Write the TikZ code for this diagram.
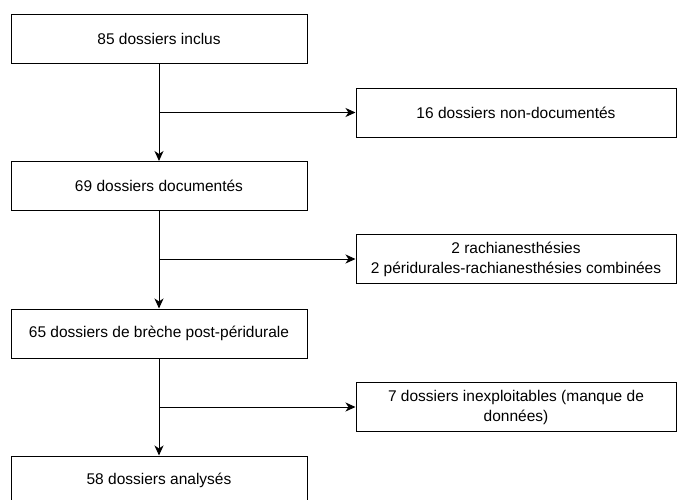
\documentclass[tikz,border=0pt]{standalone}
\usepackage{fontspec}
\setmainfont{Liberation Sans}
\usetikzlibrary{arrows.meta,positioning}

\begin{document}
\begin{tikzpicture}[x=1pt, y=-1pt,
  box/.style={draw, rectangle, line width=1pt, minimum width=296pt, minimum height=49pt, align=center, font=\fontsize{15.5}{20}\selectfont},
  exclbox/.style={box, minimum width=320pt},
  >={Stealth[length=10pt,width=9pt,inset=3pt]}]
\useasboundingbox (0,0) rectangle (678,499);

% étapes principales
\node[box] (inclus) at (159,38.5) {85 dossiers inclus};
\node[box] (documentes) at (159,186) {69 dossiers documentés};
\node[box] (breche) at (159,333.5) {65 dossiers de brèche post-péridurale};
\node[box] (analyses) at (159,480.5) {58 dossiers analysés};

% dossiers exclus
\node[exclbox] (nondoc) at (516,112.5) {16 dossiers non-documentés};
\node[exclbox] (rachi) at (516,259) {2 rachianesthésies \\ 2 péridurales-rachianesthésies combinées};
\node[exclbox] (inexpl) at (516,407) {7 dossiers inexploitables (manque de \\ données)};

% points de branchement
\coordinate (b1) at (159,112.5);
\coordinate (b2) at (159,259);
\coordinate (b3) at (159,407);

% flèches
\draw[->, line width=1pt] (inclus) -- (documentes);
\draw[->, line width=1pt] (documentes) -- (breche);
\draw[->, line width=1pt] (breche) -- (analyses);
\draw[->, line width=1pt] (b1) -- (nondoc);
\draw[->, line width=1pt] (b2) -- (rachi);
\draw[->, line width=1pt] (b3) -- (inexpl);
\end{tikzpicture}
\end{document}
